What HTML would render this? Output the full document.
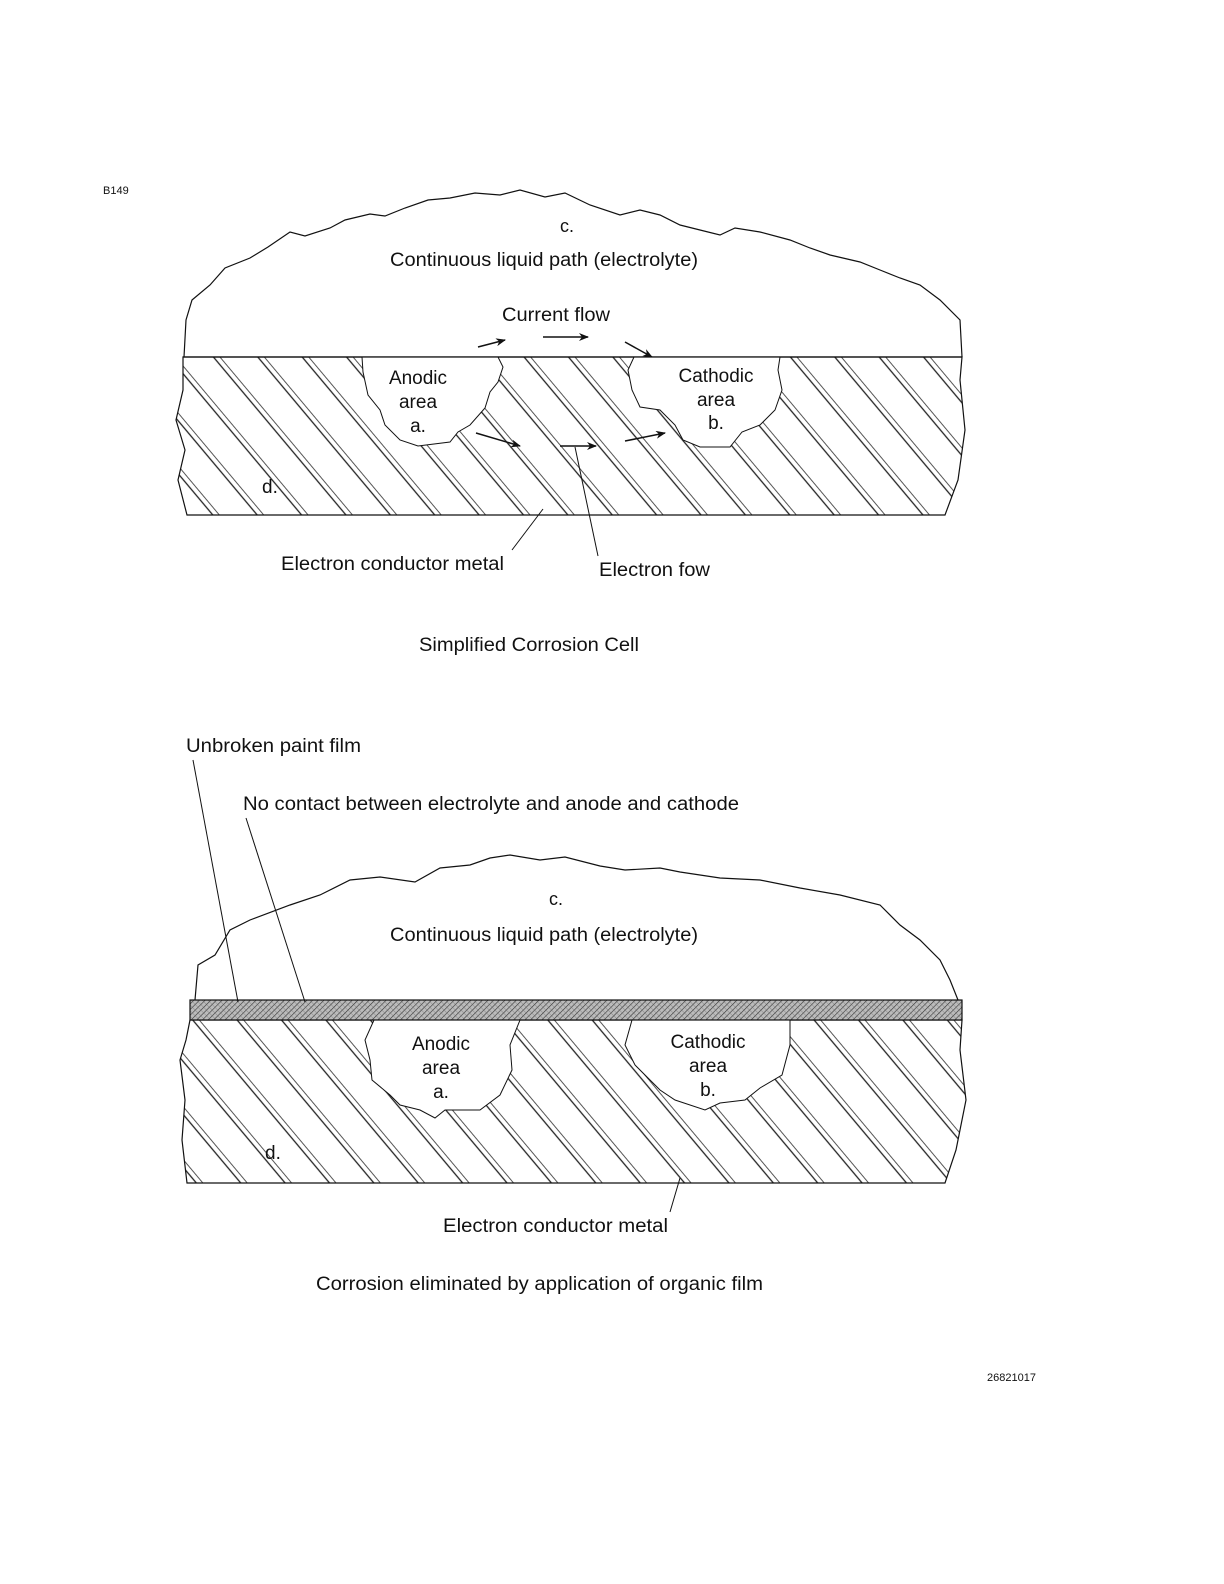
<!DOCTYPE html>
<html><head><meta charset="utf-8"><style>
html,body{margin:0;padding:0;background:#fff}
svg{display:block}
text{font-family:"Liberation Sans",Arial,sans-serif;fill:#111}
</style></head><body>
<svg width="1224" height="1584" viewBox="0 0 1224 1584" xmlns="http://www.w3.org/2000/svg">
<defs>
<pattern id="hat" width="34" height="10" patternUnits="userSpaceOnUse" patternTransform="rotate(-40)">
<rect width="34" height="10" fill="#fff"/>
<line x1="2" y1="0" x2="2" y2="10" stroke="#222" stroke-width="1.3"/>
<line x1="7" y1="0" x2="7" y2="10" stroke="#444" stroke-width="0.9"/>
</pattern>
<pattern id="paint" width="4" height="4" patternUnits="userSpaceOnUse" patternTransform="rotate(45)">
<rect width="4" height="4" fill="#bbb"/>
<line x1="0" y1="0" x2="0" y2="4" stroke="#333" stroke-width="1.2"/>
<line x1="0" y1="0" x2="4" y2="0" stroke="#666" stroke-width="0.6"/>
</pattern>
<marker id="ar" markerWidth="10" markerHeight="8" refX="9" refY="4" orient="auto" markerUnits="userSpaceOnUse">
<path d="M0,0 L10,4 L0,8 L3,4 Z" fill="#111"/>
</marker>
</defs>

<text x="103" y="194" font-size="11">B149</text>

<path d="M184,357 L186,320 L192,300 L210,285 L225,268 L250,258 L268,247 L290,232 L305,236 L330,228 L345,220 L370,214 L385,216 L405,208 L428,200 L450,198 L475,193 L500,195 L520,190 L545,197 L565,193 L590,205 L620,215 L640,210 L660,215 L680,225 L700,230 L720,235 L735,228 L760,232 L790,240 L810,248 L830,255 L860,262 L880,270 L900,278 L920,285 L940,300 L960,320 L962,357" fill="none" stroke="#111" stroke-width="1.2"/>
<text x="567" y="232" font-size="18" text-anchor="middle">c.</text>
<text x="390" y="266" font-size="19" textLength="308" lengthAdjust="spacingAndGlyphs">Continuous liquid path (electrolyte)</text>
<text x="502" y="321" font-size="19" textLength="108" lengthAdjust="spacingAndGlyphs">Current flow</text>
<line x1="478" y1="347" x2="505" y2="340" stroke="#111" stroke-width="1.5" marker-end="url(#ar)"/>
<line x1="543" y1="337" x2="588" y2="337" stroke="#111" stroke-width="1.5" marker-end="url(#ar)"/>
<line x1="625" y1="342" x2="652" y2="357" stroke="#111" stroke-width="1.5" marker-end="url(#ar)"/>

<path d="M183,357 L962,357 L960,380 L965,430 L958,480 L945,515 L187,515 L178,480 L185,450 L176,420 L183,390 Z" fill="url(#hat)" stroke="#111" stroke-width="1.2"/>
<path d="M362,357 L363,372 L368,395 L380,410 L385,425 L400,440 L418,446 L450,442 L458,432 L470,425 L485,408 L490,392 L498,382 L503,367 L498,357 Z" fill="#fff" stroke="#111" stroke-width="1"/>
<path d="M634,357 L628,370 L632,390 L640,407 L660,410 L675,425 L683,440 L700,447 L730,447 L742,432 L760,425 L775,410 L782,390 L778,370 L780,357 Z" fill="#fff" stroke="#111" stroke-width="1"/>
<line x1="183" y1="357" x2="962" y2="357" stroke="#111" stroke-width="1.3"/>
<text x="418" y="384" font-size="19" text-anchor="middle">Anodic</text>
<text x="418" y="408" font-size="19" text-anchor="middle">area</text>
<text x="418" y="432" font-size="19" text-anchor="middle">a.</text>
<text x="716" y="382" font-size="19" text-anchor="middle">Cathodic</text>
<text x="716" y="406" font-size="19" text-anchor="middle">area</text>
<text x="716" y="429" font-size="19" text-anchor="middle">b.</text>
<text x="262" y="493" font-size="19">d.</text>
<line x1="476" y1="433" x2="520" y2="446" stroke="#111" stroke-width="1.5" marker-end="url(#ar)"/>
<line x1="560" y1="446" x2="596" y2="446" stroke="#111" stroke-width="1.5" marker-end="url(#ar)"/>
<line x1="625" y1="441" x2="665" y2="433" stroke="#111" stroke-width="1.5" marker-end="url(#ar)"/>
<line x1="543" y1="509" x2="512" y2="550" stroke="#111" stroke-width="1"/>
<line x1="575" y1="447" x2="598" y2="556" stroke="#111" stroke-width="1"/>
<text x="281" y="570" font-size="19" textLength="223" lengthAdjust="spacingAndGlyphs">Electron conductor metal</text>
<text x="599" y="576" font-size="19" textLength="111" lengthAdjust="spacingAndGlyphs">Electron fow</text>
<text x="419" y="651" font-size="19" textLength="220" lengthAdjust="spacingAndGlyphs">Simplified Corrosion Cell</text>

<text x="186" y="752" font-size="19" textLength="175" lengthAdjust="spacingAndGlyphs">Unbroken paint film</text>
<text x="243" y="810" font-size="19" textLength="496" lengthAdjust="spacingAndGlyphs">No contact between electrolyte and anode and cathode</text>
<path d="M195,1000 L198,965 L215,955 L230,930 L250,920 L290,905 L320,895 L350,880 L380,877 L415,882 L440,868 L470,865 L490,858 L510,855 L540,860 L565,857 L600,866 L625,870 L660,868 L680,872 L720,878 L760,880 L800,888 L840,895 L880,905 L900,925 L920,940 L940,960 L950,980 L958,1000" fill="none" stroke="#111" stroke-width="1.2"/>
<text x="556" y="905" font-size="18" text-anchor="middle">c.</text>
<text x="390" y="941" font-size="19" textLength="308" lengthAdjust="spacingAndGlyphs">Continuous liquid path (electrolyte)</text>

<path d="M190,1020 L962,1020 L960,1050 L966,1100 L956,1150 L945,1183 L187,1183 L182,1140 L185,1100 L180,1060 L186,1040 Z" fill="url(#hat)" stroke="#111" stroke-width="1.2"/>
<path d="M374,1020 L365,1040 L370,1060 L372,1080 L390,1095 L400,1105 L420,1110 L435,1118 L445,1110 L480,1110 L500,1095 L512,1070 L510,1045 L520,1020 Z" fill="#fff" stroke="#111" stroke-width="1"/>
<path d="M632,1020 L625,1045 L635,1065 L650,1080 L660,1090 L675,1100 L705,1110 L720,1103 L745,1100 L760,1088 L782,1075 L790,1045 L790,1020 Z" fill="#fff" stroke="#111" stroke-width="1"/>
<rect x="190" y="1000" width="772" height="20" fill="url(#paint)" stroke="#111" stroke-width="1.2"/>
<text x="441" y="1050" font-size="19" text-anchor="middle">Anodic</text>
<text x="441" y="1074" font-size="19" text-anchor="middle">area</text>
<text x="441" y="1098" font-size="19" text-anchor="middle">a.</text>
<text x="708" y="1048" font-size="19" text-anchor="middle">Cathodic</text>
<text x="708" y="1072" font-size="19" text-anchor="middle">area</text>
<text x="708" y="1096" font-size="19" text-anchor="middle">b.</text>
<text x="265" y="1159" font-size="19">d.</text>
<line x1="193" y1="760" x2="238" y2="1002" stroke="#111" stroke-width="1"/>
<line x1="246" y1="818" x2="305" y2="1002" stroke="#111" stroke-width="1"/>
<line x1="680" y1="1178" x2="670" y2="1212" stroke="#111" stroke-width="1"/>
<text x="443" y="1232" font-size="19" textLength="225" lengthAdjust="spacingAndGlyphs">Electron conductor metal</text>
<text x="316" y="1290" font-size="19" textLength="447" lengthAdjust="spacingAndGlyphs">Corrosion eliminated by application of organic film</text>
<text x="987" y="1381" font-size="11">26821017</text>
</svg>
</body></html>
